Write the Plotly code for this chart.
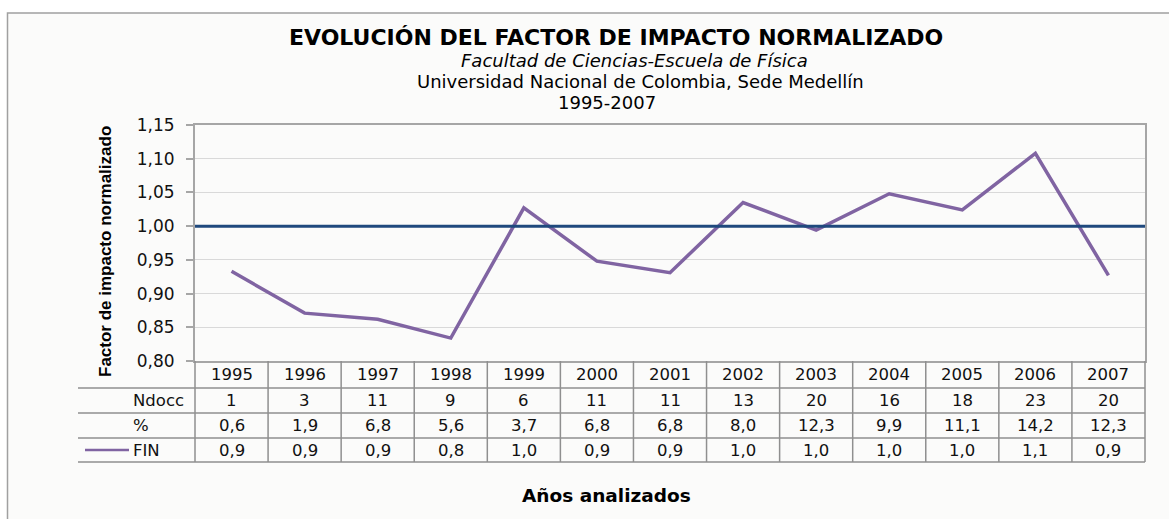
import plotly.graph_objects as go

# --- data ---------------------------------------------------------------
years = [1995, 1996, 1997, 1998, 1999, 2000, 2001, 2002, 2003, 2004, 2005, 2006, 2007]
ndocc = [1, 3, 11, 9, 6, 11, 11, 13, 20, 16, 18, 23, 20]
pct = [0.6, 1.9, 6.8, 5.6, 3.7, 6.8, 6.8, 8.0, 12.3, 9.9, 11.1, 14.2, 12.3]
fin = [0.933, 0.871, 0.862, 0.834, 1.027, 0.948, 0.931, 1.035, 0.994, 1.048, 1.024, 1.108, 0.927]
reference_level = 1.0
row_labels = ["Ndocc", "%", "FIN"]

# --- page geometry (pixels) ----------------------------------------------
W, H = 1169, 519
ML, MR, MT, MB = 195, 24, 125, 158
PW, PH = W - ML - MR, H - MT - MB
FONT = "DejaVu Sans, Verdana, sans-serif"
NARROW = "Liberation Sans, Arial, sans-serif"
PURPLE = "#8064a2"
BLUE = "#1f497d"
GRID = "#d9d9d9"
FRAME = "#a6a6a6"
TABLE = "#8f8f8f"
n = len(years)


def px_x(p):
    return (p - ML) / PW


def px_y(p):
    return (H - MB - p) / PH


def fmt(v, d=1):
    return f"{v:.{d}f}".replace(".", ",")


fig = go.Figure()

fig.add_trace(go.Scatter(
    x=list(range(n)), y=fin, mode="lines", name="FIN",
    line=dict(color=PURPLE, width=3.5), showlegend=False,
    hovertemplate="%{text}: %{y:.3f}<extra></extra>", text=[str(y) for y in years],
))

shapes = []
annotations = []

# chart background frame
shapes.append(dict(type="rect", xref="paper", yref="paper",
                   x0=px_x(7.5), x1=px_x(1185), y0=px_y(540), y1=px_y(13),
                   line=dict(color="#a0a0a0", width=1.5), fillcolor="#fbfbfa", layer="below"))

# reference level
shapes.append(dict(type="line", xref="paper", yref="y", x0=0, x1=1,
                   y0=reference_level, y1=reference_level,
                   line=dict(color=BLUE, width=3), layer="above"))

# data table below the plot
row_edges = [361, 388, 413, 438, 462]
for yb in row_edges[1:]:
    shapes.append(dict(type="line", xref="paper", yref="paper",
                       x0=px_x(78), x1=1, y0=px_y(yb), y1=px_y(yb),
                       line=dict(color=TABLE, width=1.5)))
for k in range(n + 1):
    shapes.append(dict(type="line", xref="paper", yref="paper",
                       x0=k / n, x1=k / n, y0=px_y(row_edges[0]), y1=px_y(row_edges[-1]),
                       line=dict(color=TABLE, width=1.5)))

row_centers = [(row_edges[j] + row_edges[j + 1]) / 2 for j in range(4)]
rows = [
    [str(y) for y in years],
    [str(v) for v in ndocc],
    [fmt(v) for v in pct],
    [fmt(v) for v in fin],
]
for j, vals in enumerate(rows):
    for i, t in enumerate(vals):
        annotations.append(dict(xref="paper", yref="paper", x=(i + 0.5) / n, y=px_y(row_centers[j]),
                                text=t, showarrow=False, xanchor="center", yanchor="middle",
                                font=dict(family=FONT, size=16.5, color="#111111")))
for j, lab in enumerate(row_labels):
    annotations.append(dict(xref="paper", yref="paper", x=px_x(131), y=px_y(row_centers[j + 1]),
                            text=lab, showarrow=False, xanchor="left", yanchor="middle",
                            font=dict(family=FONT, size=16.5, color="#111111")))
# legend key for the FIN series
shapes.append(dict(type="line", xref="paper", yref="paper",
                   x0=px_x(85), x1=px_x(129), y0=px_y(row_centers[3]), y1=px_y(row_centers[3]),
                   line=dict(color=PURPLE, width=2.5)))

# titles
title_lines = [
    ("<b>EVOLUCIÓN DEL FACTOR DE IMPACTO NORMALIZADO</b>", 616, 37, 22),
    ("<i>Facultad de Ciencias-Escuela de Física</i>", 634, 60.5, 18),
    ("Universidad Nacional de Colombia, Sede Medellín", 640, 81.5, 18),
    ("1995-2007", 607, 102.5, 18),
]
for text, xp, yp, size in title_lines:
    annotations.append(dict(xref="paper", yref="paper", x=px_x(xp), y=px_y(yp),
                            text=text, showarrow=False, xanchor="center", yanchor="middle",
                            font=dict(family=FONT, size=size, color="#000000")))

annotations.append(dict(xref="paper", yref="paper", x=px_x(606), y=px_y(495),
                        text="<b>Años analizados</b>", showarrow=False,
                        xanchor="center", yanchor="middle",
                        font=dict(family=FONT, size=18.5, color="#000000")))
annotations.append(dict(xref="paper", yref="paper", x=px_x(105), y=px_y(252),
                        text="<b>Factor de impacto normalizado</b>", showarrow=False,
                        textangle=-90, xanchor="center", yanchor="middle",
                        font=dict(family=NARROW, size=17, color="#000000")))

fig.update_layout(
    width=W, height=H, autosize=False,
    margin=dict(l=ML, r=MR, t=MT, b=MB, pad=0),
    paper_bgcolor="#ffffff", plot_bgcolor="rgba(0,0,0,0)",
    separators=",.",
    shapes=shapes, annotations=annotations,
    font=dict(family=FONT, color="#000000"),
    xaxis=dict(range=[-0.5, n - 0.5], showticklabels=False, ticks="", showgrid=False,
               zeroline=False, showline=True, linecolor=FRAME, linewidth=2, mirror=True),
    yaxis=dict(range=[0.80, 1.15], dtick=0.05, tick0=0.80, tickformat=".2f",
               ticks="outside", ticklen=7, tickcolor=FRAME, tickwidth=1.5,
               ticklabelstandoff=8,
               showgrid=True, gridcolor=GRID, gridwidth=1.2, zeroline=False,
               showline=True, linecolor=FRAME, linewidth=2, mirror=True,
               tickfont=dict(family=FONT, size=17, color="#111111")),
)

fig.write_html("out.html")
